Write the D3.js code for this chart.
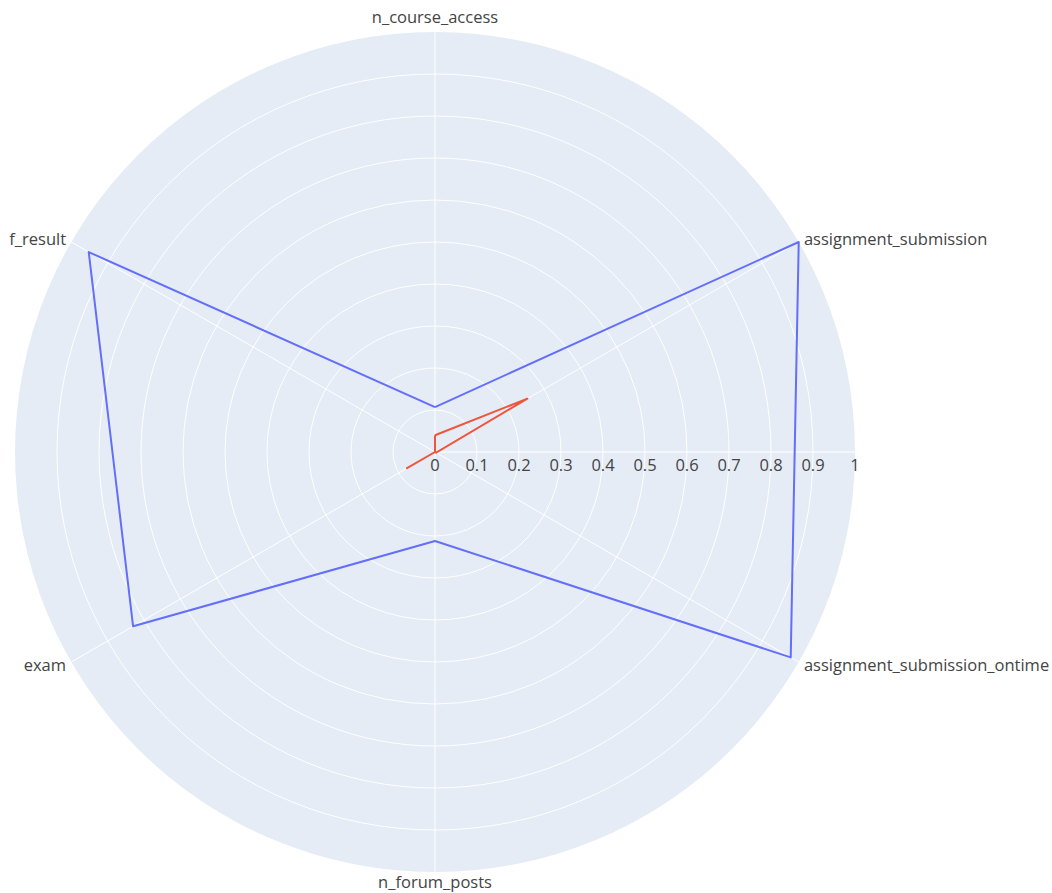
<!DOCTYPE html>
<html lang="en">
<head>
    <meta charset="UTF-8">
    <title>Radar</title>
    <script src="https://d3js.org/d3.v7.min.js"></script>
    <style>
        body { margin: 0; background: #fff; }
        text {
            font-family: "Open Sans", Arial, sans-serif;
            font-size: 16.5px;
            fill: #444;
        }
        .grid { fill: none; stroke: #fff; stroke-width: 1px; }
        .trace { fill: none; stroke-width: 2px; stroke-linejoin: round; }
    </style>
</head>
<body>
    <svg width="1052" height="893"></svg>
    <script>
        const categories = ['n_course_access', 'assignment_submission', 'assignment_submission_ontime',
                            'n_forum_posts', 'exam', 'f_result'];
        const blueValues = [0.107, 1.0, 0.978, 0.212, 0.83, 0.952];
        const redValues = [0.04, 0.254, 0.003, 0.0, 0.077, 0.0];
        const radialTicks = [0, 0.1, 0.2, 0.3, 0.4, 0.5, 0.6, 0.7, 0.8, 0.9, 1];

        const svg = d3.select('svg');
        const cx = 435, cy = 452, R = 420;

        const r = d3.scaleLinear().domain([0, 1]).range([0, R]);
        // clockwise from top
        const angle = d3.scalePoint().domain(categories).range([0, 2 * Math.PI * 5 / 6]);

        const g = svg.append('g').attr('transform', `translate(${cx},${cy})`);

        g.append('circle').attr('r', R).attr('fill', '#e5ecf6');

        g.selectAll('circle.grid')
            .data(radialTicks.slice(1, -1))
            .enter().append('circle')
            .attr('class', 'grid')
            .attr('r', d => r(d));

        g.selectAll('line.spoke')
            .data(categories)
            .enter().append('line')
            .attr('class', 'grid')
            .attr('x1', 0).attr('y1', 0)
            .attr('x2', d => R * Math.sin(angle(d)))
            .attr('y2', d => -R * Math.cos(angle(d)));

        // radial axis line
        g.append('line').attr('class', 'grid')
            .attr('x1', 0).attr('y1', 0).attr('x2', R).attr('y2', 0);

        g.selectAll('text.rtick')
            .data(radialTicks)
            .enter().append('text')
            .attr('x', d => r(d))
            .attr('y', 19)
            .attr('text-anchor', 'middle')
            .text(d => d);

        g.selectAll('text.alabel')
            .data(categories)
            .enter().append('text')
            .each(function (d) {
                const a = angle(d);
                const s = Math.sin(a), c = Math.cos(a);
                const off = R + 6;
                const t = d3.select(this)
                    .attr('x', off * s)
                    .attr('y', -off * c)
                    .text(d);
                if (Math.abs(s) < 0.01) {
                    t.attr('text-anchor', 'middle').attr('dy', c > 0 ? '-0.2em' : '0.6em');
                } else {
                    t.attr('text-anchor', s > 0 ? 'start' : 'end').attr('dy', '0.35em');
                }
            });

        const line = d3.lineRadial()
            .angle((d, i) => angle(categories[i % categories.length]))
            .radius(d => r(d));

        function closed(vals) { return vals.concat([vals[0]]); }

        g.append('path').attr('class', 'trace')
            .attr('stroke', '#636efa')
            .attr('d', line(closed(blueValues)));

        g.append('path').attr('class', 'trace')
            .attr('stroke', '#EF553B')
            .attr('d', line(closed(redValues)));
    </script>
</body>
</html>
